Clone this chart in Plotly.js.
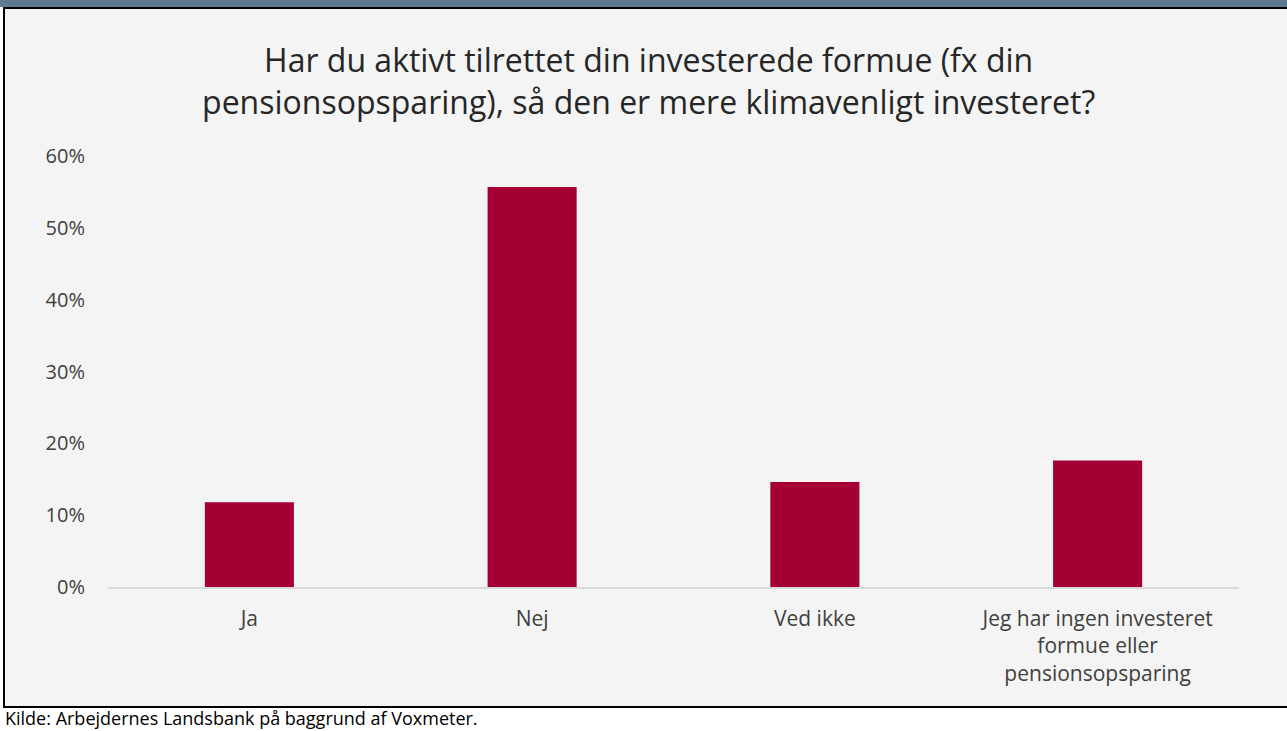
<!DOCTYPE html>
<html>
<head>
<meta charset="utf-8">
<script src="https://cdn.plot.ly/plotly-3.0.1.min.js"></script>
<style>
  html, body { margin: 0; padding: 0; background: #ffffff; }
  #chart { width: 1287px; height: 731px; }
</style>
</head>
<body>
<div id="chart"></div>
<script>
// Data
const categories = ['Ja', 'Nej', 'Ved ikke', 'Jeg har ingen investeret<br>formue eller<br>pensionsopsparing'];
const shares = [0.118, 0.557, 0.146, 0.176];

const titleText = 'Har du aktivt tilrettet din investerede formue (fx din<br>pensionsopsparing), så den er mere klimavenligt investeret?';
const sourceText = 'Kilde: Arbejdernes Landsbank på baggrund af Voxmeter.';

// plot area in pixels
const W = 1287, H = 731;
const plotL = 108, plotR = 1239, plotT = 156, plotB = 587;

// pixel -> paper coords (for the frame around the chart)
const px = x => (x - plotL) / (plotR - plotL);
const py = y => (plotB - y) / (plotB - plotT);

const font = 'Open Sans, Noto Sans, sans-serif';

Plotly.newPlot('chart', [{
    x: categories,
    y: shares,
    type: 'bar',
    marker: {color: '#a50034'},
    hoverinfo: 'x+y'
}], {
    width: W,
    height: H,
    margin: {l: plotL, r: W - plotR, t: plotT, b: H - plotB},
    paper_bgcolor: '#ffffff',
    plot_bgcolor: 'rgba(0,0,0,0)',
    bargap: 0.685,
    showlegend: false,
    font: {family: font, color: '#404040'},
    title: {
        text: titleText,
        font: {family: font, size: 32, color: '#262626'},
        xref: 'container', x: 0.504, xanchor: 'center',
        yref: 'container', y: 1 - 72 / H, yanchor: 'middle'
    },
    xaxis: {
        type: 'category',
        showgrid: false,
        zeroline: false,
        showline: true,
        linecolor: '#d9d9d9',
        linewidth: 1.5,
        ticks: 'outside',
        ticklen: 12,
        tickcolor: 'rgba(0,0,0,0)',
        tickfont: {family: font, size: 21, color: '#404040'}
    },
    yaxis: {
        range: [0, 0.6],
        dtick: 0.1,
        tickformat: '.0%',
        showgrid: false,
        zeroline: false,
        showline: false,
        ticks: 'outside',
        ticklen: 18,
        tickcolor: 'rgba(0,0,0,0)',
        tickfont: {family: font, size: 20, color: '#404040'}
    },
    shapes: [
        // grey chart frame
        {type: 'rect', xref: 'paper', yref: 'paper', layer: 'below',
         x0: px(4), x1: px(1292), y0: py(707), y1: py(8),
         fillcolor: '#f4f4f4', line: {color: '#000000', width: 2}},
        // header band (cut off at the top)
        {type: 'rect', xref: 'paper', yref: 'paper', layer: 'below',
         x0: px(0), x1: px(1292), y0: py(7), y1: py(-2),
         fillcolor: '#5f7a8e', line: {width: 0}}
    ],
    annotations: [{
        text: sourceText,
        xref: 'paper', yref: 'paper',
        x: px(3), y: py(718),
        xanchor: 'left', yanchor: 'middle',
        showarrow: false,
        font: {family: font, size: 18, color: '#000000'}
    }]
}, {displayModeBar: false});
</script>
</body>
</html>
